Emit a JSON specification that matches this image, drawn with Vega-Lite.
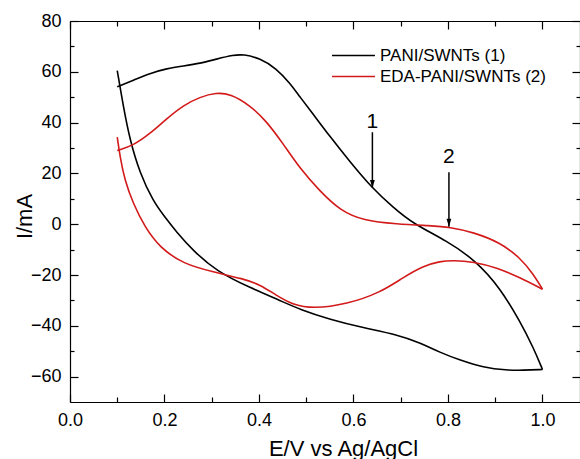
{
  "$schema": "https://vega.github.io/schema/vega-lite/v6.json",
  "width": 510,
  "height": 381,
  "autosize": {"type": "none"},
  "padding": {"left": 70, "top": 21, "right": 0, "bottom": 57},
  "background": "white",
  "config": {
    "font": "Liberation Sans",
    "view": {"stroke": null},
    "axis": {
      "grid": false,
      "domainColor": "#000000",
      "domainWidth": 1.2,
      "tickColor": "#000000",
      "tickWidth": 1.2,
      "labelColor": "#000000",
      "labelFontSize": 18,
      "labelFlush": false,
      "labelOverlap": false,
      "titleColor": "#000000",
      "titleFontSize": 22,
      "titleFontWeight": "normal"
    }
  },
  "datasets": {
    "cv": [
      {"series": "PANI/SWNTs (1)", "branch": "a", "k": 1, "E": 0.100, "I": 54.1},
      {"series": "PANI/SWNTs (1)", "branch": "a", "k": 2, "E": 0.134, "I": 56.7},
      {"series": "PANI/SWNTs (1)", "branch": "a", "k": 3, "E": 0.169, "I": 59.4},
      {"series": "PANI/SWNTs (1)", "branch": "a", "k": 4, "E": 0.205, "I": 61.3},
      {"series": "PANI/SWNTs (1)", "branch": "a", "k": 5, "E": 0.240, "I": 62.3},
      {"series": "PANI/SWNTs (1)", "branch": "a", "k": 6, "E": 0.275, "I": 63.3},
      {"series": "PANI/SWNTs (1)", "branch": "a", "k": 7, "E": 0.310, "I": 65.0},
      {"series": "PANI/SWNTs (1)", "branch": "a", "k": 8, "E": 0.346, "I": 66.6},
      {"series": "PANI/SWNTs (1)", "branch": "a", "k": 9, "E": 0.367, "I": 66.9},
      {"series": "PANI/SWNTs (1)", "branch": "a", "k": 10, "E": 0.402, "I": 65.3},
      {"series": "PANI/SWNTs (1)", "branch": "a", "k": 11, "E": 0.437, "I": 61.3},
      {"series": "PANI/SWNTs (1)", "branch": "a", "k": 12, "E": 0.466, "I": 55.4},
      {"series": "PANI/SWNTs (1)", "branch": "a", "k": 13, "E": 0.487, "I": 50.0},
      {"series": "PANI/SWNTs (1)", "branch": "a", "k": 14, "E": 0.508, "I": 45.0},
      {"series": "PANI/SWNTs (1)", "branch": "a", "k": 15, "E": 0.550, "I": 34.5},
      {"series": "PANI/SWNTs (1)", "branch": "a", "k": 16, "E": 0.593, "I": 24.5},
      {"series": "PANI/SWNTs (1)", "branch": "a", "k": 17, "E": 0.638, "I": 14.5},
      {"series": "PANI/SWNTs (1)", "branch": "a", "k": 18, "E": 0.684, "I": 6.6},
      {"series": "PANI/SWNTs (1)", "branch": "a", "k": 19, "E": 0.727, "I": 0.1},
      {"series": "PANI/SWNTs (1)", "branch": "a", "k": 20, "E": 0.797, "I": -6.5},
      {"series": "PANI/SWNTs (1)", "branch": "a", "k": 21, "E": 0.858, "I": -14.2},
      {"series": "PANI/SWNTs (1)", "branch": "a", "k": 22, "E": 0.910, "I": -25.0},
      {"series": "PANI/SWNTs (1)", "branch": "a", "k": 23, "E": 0.952, "I": -38.1},
      {"series": "PANI/SWNTs (1)", "branch": "a", "k": 24, "E": 0.981, "I": -48.7},
      {"series": "PANI/SWNTs (1)", "branch": "a", "k": 25, "E": 1.000, "I": -57.2},
      {"series": "PANI/SWNTs (1)", "branch": "b", "k": 25, "E": 1.000, "I": -57.2},
      {"series": "PANI/SWNTs (1)", "branch": "b", "k": 26, "E": 0.960, "I": -57.5},
      {"series": "PANI/SWNTs (1)", "branch": "b", "k": 27, "E": 0.924, "I": -57.5},
      {"series": "PANI/SWNTs (1)", "branch": "b", "k": 28, "E": 0.875, "I": -56.4},
      {"series": "PANI/SWNTs (1)", "branch": "b", "k": 29, "E": 0.825, "I": -53.5},
      {"series": "PANI/SWNTs (1)", "branch": "b", "k": 30, "E": 0.783, "I": -50.5},
      {"series": "PANI/SWNTs (1)", "branch": "b", "k": 31, "E": 0.741, "I": -46.7},
      {"series": "PANI/SWNTs (1)", "branch": "b", "k": 32, "E": 0.691, "I": -43.4},
      {"series": "PANI/SWNTs (1)", "branch": "b", "k": 33, "E": 0.621, "I": -40.8},
      {"series": "PANI/SWNTs (1)", "branch": "b", "k": 34, "E": 0.550, "I": -37.5},
      {"series": "PANI/SWNTs (1)", "branch": "b", "k": 35, "E": 0.487, "I": -33.6},
      {"series": "PANI/SWNTs (1)", "branch": "b", "k": 36, "E": 0.444, "I": -30.0},
      {"series": "PANI/SWNTs (1)", "branch": "b", "k": 37, "E": 0.381, "I": -25.0},
      {"series": "PANI/SWNTs (1)", "branch": "b", "k": 38, "E": 0.310, "I": -18.5},
      {"series": "PANI/SWNTs (1)", "branch": "b", "k": 39, "E": 0.261, "I": -10.5},
      {"series": "PANI/SWNTs (1)", "branch": "b", "k": 40, "E": 0.225, "I": -3.0},
      {"series": "PANI/SWNTs (1)", "branch": "b", "k": 41, "E": 0.200, "I": 3.0},
      {"series": "PANI/SWNTs (1)", "branch": "b", "k": 42, "E": 0.176, "I": 9.0},
      {"series": "PANI/SWNTs (1)", "branch": "b", "k": 43, "E": 0.148, "I": 20.0},
      {"series": "PANI/SWNTs (1)", "branch": "b", "k": 44, "E": 0.127, "I": 33.0},
      {"series": "PANI/SWNTs (1)", "branch": "b", "k": 45, "E": 0.113, "I": 46.2},
      {"series": "PANI/SWNTs (1)", "branch": "b", "k": 46, "E": 0.100, "I": 60.5},

      {"series": "EDA-PANI/SWNTs (2)", "branch": "a", "k": 1, "E": 0.100, "I": 29.0},
      {"series": "EDA-PANI/SWNTs (2)", "branch": "a", "k": 2, "E": 0.134, "I": 31.0},
      {"series": "EDA-PANI/SWNTs (2)", "branch": "a", "k": 3, "E": 0.169, "I": 35.6},
      {"series": "EDA-PANI/SWNTs (2)", "branch": "a", "k": 4, "E": 0.205, "I": 41.6},
      {"series": "EDA-PANI/SWNTs (2)", "branch": "a", "k": 5, "E": 0.240, "I": 46.8},
      {"series": "EDA-PANI/SWNTs (2)", "branch": "a", "k": 6, "E": 0.275, "I": 50.1},
      {"series": "EDA-PANI/SWNTs (2)", "branch": "a", "k": 7, "E": 0.310, "I": 51.8},
      {"series": "EDA-PANI/SWNTs (2)", "branch": "a", "k": 8, "E": 0.339, "I": 51.3},
      {"series": "EDA-PANI/SWNTs (2)", "branch": "a", "k": 9, "E": 0.381, "I": 46.8},
      {"series": "EDA-PANI/SWNTs (2)", "branch": "a", "k": 10, "E": 0.416, "I": 40.5},
      {"series": "EDA-PANI/SWNTs (2)", "branch": "a", "k": 11, "E": 0.451, "I": 31.7},
      {"series": "EDA-PANI/SWNTs (2)", "branch": "a", "k": 12, "E": 0.487, "I": 21.8},
      {"series": "EDA-PANI/SWNTs (2)", "branch": "a", "k": 13, "E": 0.529, "I": 13.0},
      {"series": "EDA-PANI/SWNTs (2)", "branch": "a", "k": 14, "E": 0.571, "I": 5.5},
      {"series": "EDA-PANI/SWNTs (2)", "branch": "a", "k": 15, "E": 0.621, "I": 1.4},
      {"series": "EDA-PANI/SWNTs (2)", "branch": "a", "k": 16, "E": 0.691, "I": 0.1},
      {"series": "EDA-PANI/SWNTs (2)", "branch": "a", "k": 17, "E": 0.762, "I": -0.6},
      {"series": "EDA-PANI/SWNTs (2)", "branch": "a", "k": 18, "E": 0.804, "I": -1.1},
      {"series": "EDA-PANI/SWNTs (2)", "branch": "a", "k": 19, "E": 0.854, "I": -3.2},
      {"series": "EDA-PANI/SWNTs (2)", "branch": "a", "k": 20, "E": 0.910, "I": -7.2},
      {"series": "EDA-PANI/SWNTs (2)", "branch": "a", "k": 21, "E": 0.952, "I": -13.1},
      {"series": "EDA-PANI/SWNTs (2)", "branch": "a", "k": 22, "E": 0.981, "I": -19.7},
      {"series": "EDA-PANI/SWNTs (2)", "branch": "a", "k": 23, "E": 1.000, "I": -25.6},
      {"series": "EDA-PANI/SWNTs (2)", "branch": "b", "k": 23, "E": 1.000, "I": -25.6},
      {"series": "EDA-PANI/SWNTs (2)", "branch": "b", "k": 24, "E": 0.952, "I": -21.0},
      {"series": "EDA-PANI/SWNTs (2)", "branch": "b", "k": 25, "E": 0.903, "I": -17.1},
      {"series": "EDA-PANI/SWNTs (2)", "branch": "b", "k": 26, "E": 0.854, "I": -14.8},
      {"series": "EDA-PANI/SWNTs (2)", "branch": "b", "k": 27, "E": 0.811, "I": -14.2},
      {"series": "EDA-PANI/SWNTs (2)", "branch": "b", "k": 28, "E": 0.783, "I": -14.6},
      {"series": "EDA-PANI/SWNTs (2)", "branch": "b", "k": 29, "E": 0.748, "I": -16.4},
      {"series": "EDA-PANI/SWNTs (2)", "branch": "b", "k": 30, "E": 0.705, "I": -21.0},
      {"series": "EDA-PANI/SWNTs (2)", "branch": "b", "k": 31, "E": 0.656, "I": -27.0},
      {"series": "EDA-PANI/SWNTs (2)", "branch": "b", "k": 32, "E": 0.586, "I": -31.5},
      {"series": "EDA-PANI/SWNTs (2)", "branch": "b", "k": 33, "E": 0.515, "I": -33.3},
      {"series": "EDA-PANI/SWNTs (2)", "branch": "b", "k": 34, "E": 0.470, "I": -31.6},
      {"series": "EDA-PANI/SWNTs (2)", "branch": "b", "k": 35, "E": 0.437, "I": -28.0},
      {"series": "EDA-PANI/SWNTs (2)", "branch": "b", "k": 36, "E": 0.402, "I": -23.8},
      {"series": "EDA-PANI/SWNTs (2)", "branch": "b", "k": 37, "E": 0.367, "I": -21.5},
      {"series": "EDA-PANI/SWNTs (2)", "branch": "b", "k": 38, "E": 0.303, "I": -18.8},
      {"series": "EDA-PANI/SWNTs (2)", "branch": "b", "k": 39, "E": 0.240, "I": -15.7},
      {"series": "EDA-PANI/SWNTs (2)", "branch": "b", "k": 40, "E": 0.190, "I": -9.2},
      {"series": "EDA-PANI/SWNTs (2)", "branch": "b", "k": 41, "E": 0.158, "I": -1.0},
      {"series": "EDA-PANI/SWNTs (2)", "branch": "b", "k": 42, "E": 0.134, "I": 8.0},
      {"series": "EDA-PANI/SWNTs (2)", "branch": "b", "k": 43, "E": 0.116, "I": 17.2},
      {"series": "EDA-PANI/SWNTs (2)", "branch": "b", "k": 44, "E": 0.106, "I": 26.4},
      {"series": "EDA-PANI/SWNTs (2)", "branch": "b", "k": 45, "E": 0.100, "I": 34.3}
    ],
    "notes": [
      {"label": "1", "E": 0.640, "I": 40.2, "top": 36.2, "tip": 14.3},
      {"label": "2", "E": 0.802, "I": 26.4, "top": 20.5, "tip": -1.0}
    ]
  },
  "resolve": {"axis": {"x": "independent", "y": "independent"}},
  "layer": [
    {
      "data": {"name": "cv"},
      "mark": {"type": "line", "interpolate": "basis", "strokeWidth": 1.6},
      "encoding": {
        "x": {
          "field": "E", "type": "quantitative",
          "scale": {"domain": [0, 1.0794], "nice": false, "zero": false},
          "axis": {
            "orient": "bottom",
            "values": [0, 0.1, 0.2, 0.3, 0.4, 0.5, 0.6, 0.7, 0.8, 0.9, 1.0],
            "labelExpr": "round(datum.value * 10) % 2 == 0 ? format(datum.value, '.1f') : ''",
            "tickSize": {"condition": {"test": "round(datum.value * 10) % 2 == 1", "value": -5}, "value": -8},
            "labelPadding": 17,
            "title": "E/V vs Ag/AgCl",
            "titleX": 273,
            "titleY": 53,
            "titleBaseline": "alphabetic"
          }
        },
        "y": {
          "field": "I", "type": "quantitative",
          "scale": {"domain": [-70, 80], "nice": false, "zero": false},
          "axis": {
            "orient": "left",
            "values": [-60, -50, -40, -30, -20, -10, 0, 10, 20, 30, 40, 50, 60, 70, 80],
            "labelExpr": "datum.value % 20 == 0 ? datum.label : ''",
            "tickSize": {"condition": {"test": "datum.value % 20 != 0", "value": -4}, "value": -8},
            "labelPadding": 17,
            "title": "I/mA",
            "titleX": -39,
            "titleY": 195,
            "titleAlign": "center",
            "titleBaseline": "alphabetic"
          }
        },
        "color": {
          "field": "series", "type": "nominal",
          "scale": {"domain": ["PANI/SWNTs (1)", "EDA-PANI/SWNTs (2)"], "range": ["#000000", "#d21a1a"]},
          "legend": {
            "title": null,
            "orient": "none",
            "legendX": 275,
            "legendY": 26,
            "symbolType": "M-3,0H3",
            "symbolSize": 205,
            "symbolStrokeWidth": 1.6,
            "labelFontSize": 17,
            "labelColor": "#000000",
            "labelLimit": 300,
            "labelOffset": 18,
            "rowPadding": 3
          }
        },
        "detail": {"field": "branch"},
        "order": {"field": "k", "type": "quantitative"}
      }
    },
    {
      "data": {"name": "notes"},
      "mark": {"type": "text", "fontSize": 21, "color": "#000000", "baseline": "middle", "align": "center"},
      "encoding": {
        "x": {
          "field": "E", "type": "quantitative",
          "axis": {
            "orient": "top",
            "values": [0, 0.1, 0.2, 0.3, 0.4, 0.5, 0.6, 0.7, 0.8, 0.9, 1.0],
            "labels": false,
            "tickSize": {"condition": {"test": "round(datum.value * 10) % 2 == 1", "value": -5}, "value": -8},
            "title": null
          }
        },
        "y": {
          "field": "I", "type": "quantitative",
          "axis": {
            "orient": "right",
            "values": [-60, -50, -40, -30, -20, -10, 0, 10, 20, 30, 40, 50, 60, 70, 80],
            "labels": false,
            "tickSize": {"condition": {"test": "datum.value % 20 != 0", "value": -4}, "value": -8},
            "title": null
          }
        },
        "text": {"field": "label"}
      }
    },
    {
      "data": {"name": "notes"},
      "mark": {"type": "rule", "color": "#000000", "strokeWidth": 1.5},
      "encoding": {
        "x": {"field": "E", "type": "quantitative", "axis": null},
        "y": {"field": "top", "type": "quantitative", "axis": null},
        "y2": {"field": "tip"}
      }
    },
    {
      "data": {"name": "notes"},
      "mark": {"type": "point", "shape": "M-0.6,-1L0.6,-1L0,1Z", "size": 64, "filled": true, "color": "#000000", "opacity": 1},
      "encoding": {
        "x": {"field": "E", "type": "quantitative", "axis": null},
        "y": {"field": "tip", "type": "quantitative", "axis": null},
        "yOffset": {"value": -4}
      }
    }
  ]
}
